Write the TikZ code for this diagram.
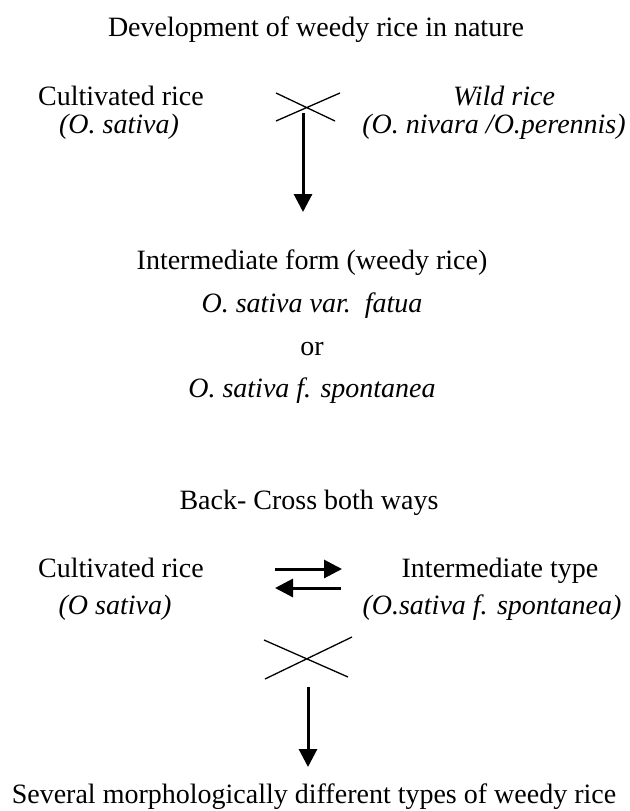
\documentclass[tikz,border=0pt]{standalone}
\usepackage{fontspec}
\setmainfont{Liberation Serif}
\usetikzlibrary{arrows.meta, positioning}

\begin{document}
\begin{tikzpicture}[
    x=1pt, y=-1pt,
    txt/.style={anchor=base, inner sep=0pt},
    species/.style={txt, font=\fontsize{28}{34}\selectfont\itshape},
    arrow/.style={-{Triangle[length=18pt, width=18pt]}, line width=3pt},
    crossline/.style={line width=1.3pt},
	font=\fontsize{28}{34}\selectfont
]
\useasboundingbox (0,0) rectangle (629,811);

% Title
\node[txt] (title) at (316,36) {Development of weedy rice in nature};

% First cross
\node[txt] (cultA) at (121,105) {Cultivated rice};
\node[species] (satA) at (119,133) {(O. sativa)};
\node[species] (wild) at (504,105) {Wild rice};
\node[species] (wildsp) at (494,133) {(O. nivara /O.perennis)};

\draw[crossline] (276,93) -- (335,121) (276,121) -- (340,93);
\coordinate (crossA) at (303,113);
\coordinate (tipA) at (303,212);
\draw[arrow] (crossA) -- (tipA);

% Intermediate form
\node[txt] (inter) at (312,269) {Intermediate form (weedy rice)};
\node[species] (fatua) at (312,312) {O. sativa var.\ \ fatua};
\node[txt] (orword) at (312,355) {or};
\node[species] (spont) at (312,397) {O. sativa f. spontanea};

% Back-cross
\node[txt] (back) at (309,509) {Back- Cross both ways};

\node[txt] (cultB) at (121,577) {Cultivated rice};
\node[species] (satB) at (115,614) {(O sativa)};
\node[txt] (intype) at (500,577) {Intermediate type};
\node[species] (inspont) at (492,614) {(O.sativa f. spontanea)};

\coordinate (fwdA) at (275,569);
\coordinate (fwdB) at (342,569);
\coordinate (bwdA) at (341,588);
\coordinate (bwdB) at (275,588);
\draw[arrow] (fwdA) -- (fwdB);
\draw[arrow] (bwdA) -- (bwdB);

\draw[crossline] (264,640) -- (348,677) (265,679) -- (352,637);
\coordinate (crossB) at (308,687);
\coordinate (tipB) at (308,767);
\draw[arrow] (crossB) -- (tipB);

% Result
\node[txt] (several) at (314,803) {Several morphologically different types of weedy rice};

\end{tikzpicture}
\end{document}
